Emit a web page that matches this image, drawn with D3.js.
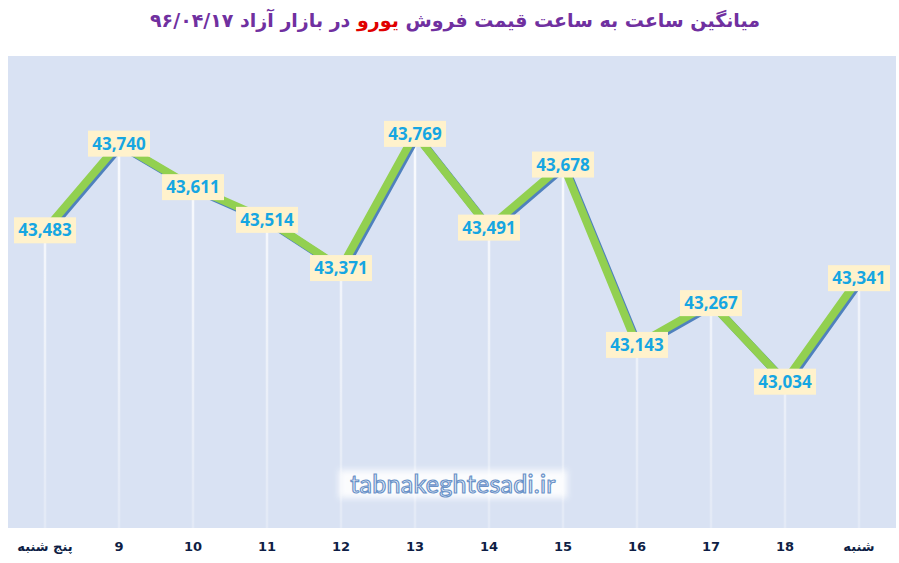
<!DOCTYPE html>
<html>
<head>
<meta charset="utf-8">
<script src="https://cdn.jsdelivr.net/npm/d3@7"></script>
<style>
  body { margin: 0; background: #fff; }
  svg { display: block; }
</style>
</head>
<body>
<svg id="chart" width="899" height="563"></svg>
<script>
// hours of the day (x categories) and the average euro price
const hours = ["پنج شنبه", "9", "10", "11", "12", "13", "14", "15", "16", "17", "18", "شنبه"];
const prices = [43483, 43740, 43611, 43514, 43371, 43769, 43491, 43678, 43143, 43267, 43034, 43341];
const yDomain = [42600, 44000];

const width = 899, height = 563;
const margin = { top: 56, right: 3, bottom: 35, left: 8 };

const svg = d3.select("#chart");
const data = hours.map((h, i) => ({ hour: h, value: prices[i] }));

const x = d3.scaleBand()
  .domain(hours)
  .range([margin.left, width - margin.right])
  .padding(0);

const y = d3.scaleLinear()
  .domain(yDomain)
  .range([height - margin.bottom, margin.top]);

const cx = d => x(d.hour) + x.bandwidth() / 2;

// gradient for the drop lines
const defs = svg.append("defs");
const grad = defs.append("linearGradient")
  .attr("id", "drop")
  .attr("gradientUnits", "userSpaceOnUse")
  .attr("x1", 0).attr("x2", 0)
  .attr("y1", margin.top).attr("y2", height - margin.bottom);
grad.append("stop").attr("offset", "0%").attr("stop-color", "#fff").attr("stop-opacity", 1);
grad.append("stop").attr("offset", "100%").attr("stop-color", "#fff").attr("stop-opacity", 0.25);

const glow = defs.append("filter").attr("id", "glow")
  .attr("x", "-20%").attr("y", "-50%").attr("width", "140%").attr("height", "200%");
glow.append("feGaussianBlur").attr("stdDeviation", 3);

// title
svg.append("text")
  .attr("x", 455)
  .attr("y", 27)
  .attr("text-anchor", "middle")
  .attr("direction", "rtl")
  .style("font-family", "DejaVu Sans")
  .style("font-weight", "bold")
  .style("font-size", "19px")
  .attr("fill", "#7030a0")
  .call(t => {
    t.append("tspan").text("میانگین ساعت به ساعت قیمت فروش ");
    t.append("tspan").attr("fill", "#e00000").text("یورو");
    t.append("tspan").text(" در بازار آزاد ۹۶/۰۴/۱۷");
  });

// plot area
svg.append("rect")
  .attr("x", margin.left)
  .attr("y", margin.top)
  .attr("width", width - margin.left - margin.right)
  .attr("height", height - margin.top - margin.bottom)
  .attr("fill", "#d9e2f3");

// drop lines
svg.append("g")
  .selectAll("line")
  .data(data)
  .join("line")
  .attr("x1", cx)
  .attr("x2", cx)
  .attr("y1", d => y(d.value))
  .attr("y2", y(yDomain[0]))
  .attr("stroke", "url(#drop)")
  .attr("stroke-width", 2.5);

// watermark
const wm = svg.append("g").attr("transform", `translate(453,484)`);
wm.append("rect")
  .attr("x", -114).attr("y", -14).attr("width", 228).attr("height", 28)
  .attr("fill", "#fff").attr("opacity", 0.9)
  .attr("filter", "url(#glow)");
wm.append("text")
  .attr("text-anchor", "middle")
  .attr("dy", "0.35em")
  .style("font-family", "Lato")
  .style("font-size", "25px")
  .attr("fill", "#f2f6fc")
  .attr("stroke", "#6a92c8")
  .attr("stroke-width", 1.2)
  .attr("letter-spacing", "0.3px")
  .text("tabnakeghtesadi.ir");

// line with its shadow
const line = d3.line().x(cx).y(d => y(d.value));

svg.append("path")
  .datum(data)
  .attr("d", line)
  .attr("transform", "translate(2,2)")
  .attr("fill", "none")
  .attr("stroke", "#4f81bd")
  .attr("stroke-width", 8);

svg.append("path")
  .datum(data)
  .attr("d", line)
  .attr("fill", "none")
  .attr("stroke", "#92d050")
  .attr("stroke-width", 8);

// data labels
const fmt = d3.format(",");
const labels = svg.append("g")
  .selectAll("g")
  .data(data)
  .join("g")
  .attr("transform", d => `translate(${cx(d)},${y(d.value)})`);

labels.append("rect")
  .attr("x", -31).attr("y", -13)
  .attr("width", 62).attr("height", 26)
  .attr("fill", "#fff2cc");

labels.append("text")
  .attr("text-anchor", "middle")
  .attr("dy", "0.36em")
  .style("font-family", "Open Sans")
  .style("font-weight", "bold")
  .style("font-size", "17px")
  .attr("fill", "#16a6e2")
  .text(d => fmt(d.value));

// x axis labels
svg.append("g")
  .attr("transform", `translate(0,${height - margin.bottom})`)
  .call(d3.axisBottom(x).tickSize(0).tickPadding(14))
  .call(g => g.select(".domain").remove())
  .call(g => g.selectAll("text")
    .style("font-family", "DejaVu Sans")
    .style("font-weight", "bold")
    .style("font-size", "13px")
    .attr("fill", "#0f1e45"));
</script>
</body>
</html>
